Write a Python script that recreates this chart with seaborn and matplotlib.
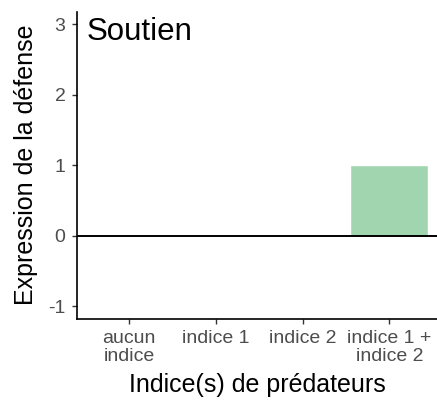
import matplotlib
matplotlib.use("Agg")
import matplotlib.pyplot as plt
import seaborn as sns
import pandas as pd

# Data
categories = ["aucun\nindice", "indice 1", "indice 2", "indice 1 +\nindice 2"]
expression = [0, 0, 0, 1]
panel_title = "Soutien"
y_ticks = [-1, 0, 1, 2, 3]

df = pd.DataFrame({"indice": categories, "expression": expression})

sns.set_theme(style="ticks")
plt.rcParams["font.family"] = ["Liberation Sans", "DejaVu Sans"]

fig = plt.figure(figsize=(4.37, 4.03), dpi=100)
ax = fig.add_axes([0.1762, 0.209, 0.8238, 0.762])

sns.barplot(data=df, x="indice", y="expression", color="#a1d5b0",
            saturation=1, width=0.9, ax=ax, errorbar=None)

ax.axhline(0, color="black", linewidth=1.4, zorder=3)

ax.set_xlim(-0.6, 3.55)
ax.set_ylim(-1.18, 3.18)
ax.set_yticks(y_ticks)
ax.set_yticklabels([str(v) for v in y_ticks])

for side in ("top", "right"):
    ax.spines[side].set_visible(False)
for side in ("left", "bottom"):
    ax.spines[side].set_linewidth(1.2)
    ax.spines[side].set_color("black")

ax.tick_params(axis="both", length=3.8, width=1.0, color="#333333",
               labelsize=14, labelcolor="#4d4d4d", pad=4.5)
for lbl in ax.get_xticklabels():
    lbl.set_multialignment("center")
    lbl.set_linespacing(1.05)

ax.set_xlabel("Indice(s) de prédateurs", fontsize=18, color="black", labelpad=6)
ax.set_ylabel("Expression de la défense", fontsize=18, color="black", labelpad=7)

ax.text(-0.49, 2.78, panel_title, fontsize=22.5, color="black",
        ha="left", va="baseline")

fig.savefig("out.png", dpi=100, facecolor="white")
